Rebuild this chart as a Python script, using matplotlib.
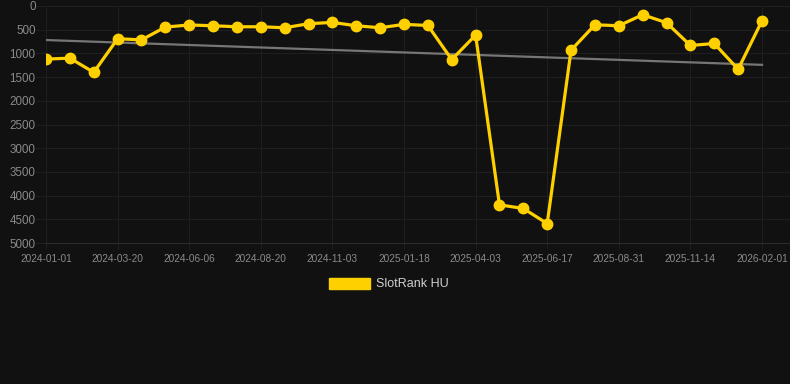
import numpy as np
import matplotlib
matplotlib.use("Agg")
import matplotlib.pyplot as plt
from matplotlib.patches import Patch

# Rank values per sample (lower is better)
rank = [1120, 1100, 1400, 690, 715, 445, 400, 417, 438, 438,
        459, 374, 346, 417, 459, 388, 410, 1130, 614, 4195,
        4272, 4590, 932, 396, 417, 184, 353, 833, 791, 1335, 311]
tick_labels = ["2024-01-01", "2024-03-20", "2024-06-06", "2024-08-20",
               "2024-11-03", "2025-01-18", "2025-04-03", "2025-06-17",
               "2025-08-31", "2025-11-14", "2026-02-01"]
y_ticks = [0, 500, 1000, 1500, 2000, 2500, 3000, 3500, 4000, 4500, 5000]

bg = "#111111"
gold = "#FFD000"
grid_c = "#1f1f1f"
label_c = "#8a8a8a"

plt.rcParams['font.family'] = ['Liberation Sans', 'DejaVu Sans']

fig = plt.figure(figsize=(7.9, 3.84), dpi=100, facecolor=bg)
ax = fig.add_axes([46 / 790, 1 - 243 / 384, (790 - 46) / 790, (243 - 6) / 384])
ax.set_facecolor(bg)

x = np.arange(len(rank))

# trend line (least squares fit)
k, b = np.polyfit(x, rank, 1)
ax.plot(x, k * x + b, color="#767676", linewidth=1.6, zorder=2)

ax.plot(x, rank, color=gold, linewidth=2.3, marker="o", markersize=7.5,
        markerfacecolor=gold, markeredgecolor=gold, zorder=3)

ax.set_xlim(0, 30 + 28 / 23.87)
ax.set_ylim(5000, 0)
ax.set_xticks(x[::3])
ax.set_xticklabels(tick_labels)
ax.set_yticks(y_ticks)
ax.set_yticklabels([str(v) for v in y_ticks])

ax.grid(True, color=grid_c, linewidth=0.8)
ax.set_axisbelow(True)
for side in ["top", "right", "left"]:
    ax.spines[side].set_visible(False)
ax.spines["bottom"].set_color("#2c2c2c")
ax.tick_params(axis="both", colors=grid_c, labelcolor=label_c, width=0.8)
ax.tick_params(axis="y", labelsize=8.4, length=7, pad=0.5)
ax.tick_params(axis="x", labelsize=7.3, length=4, pad=4)

handle = Patch(facecolor=gold, edgecolor=gold)
fig.legend([handle], ["SlotRank HU"], loc="center", bbox_to_anchor=(389 / 790, 1 - 284 / 384),
           frameon=False, fontsize=9, labelcolor="#d0d0d0", handlelength=3.3,
           handleheight=1.0, handletextpad=0.5)

fig.savefig("out.png", dpi=100, facecolor=bg)
